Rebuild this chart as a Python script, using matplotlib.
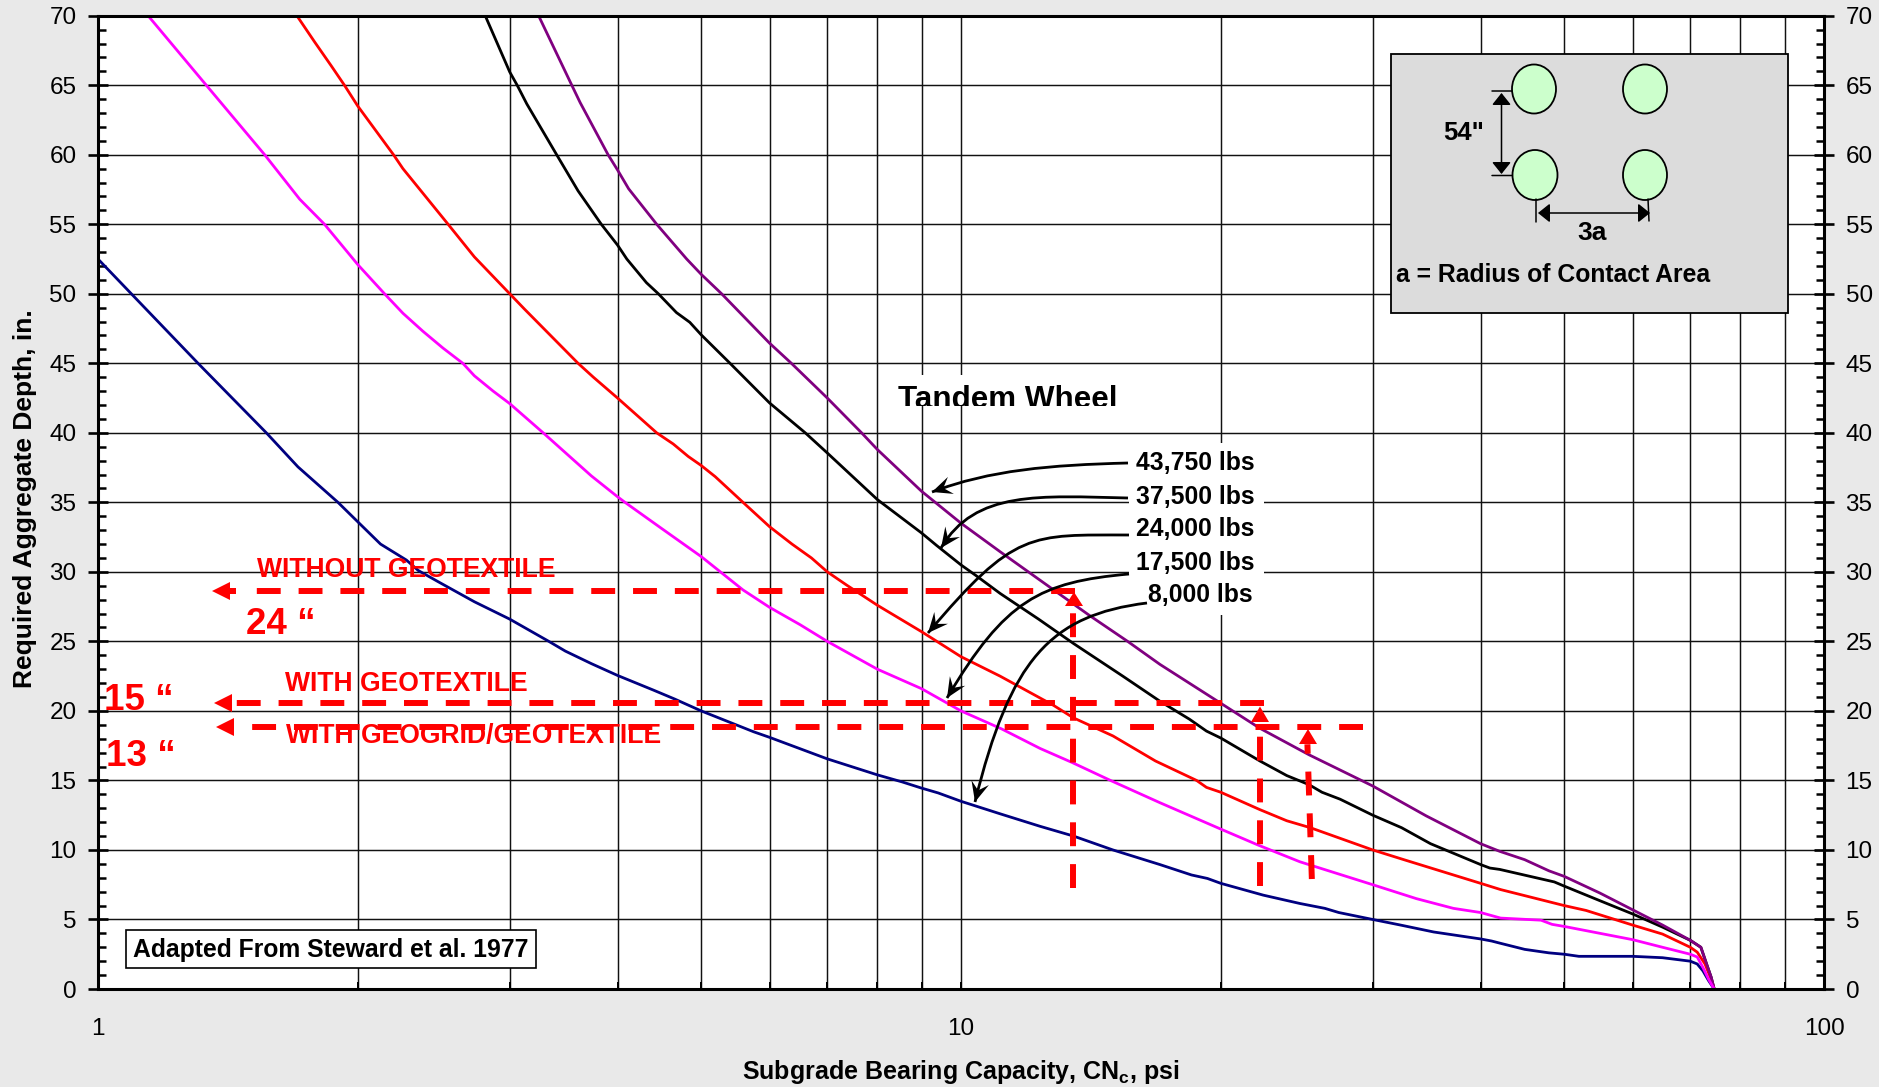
import math

import matplotlib
matplotlib.use("Agg")
import matplotlib.pyplot as plt
from matplotlib.patches import Ellipse, FancyArrowPatch, PathPatch, Polygon, Rectangle
from matplotlib.path import Path
from matplotlib.ticker import FixedFormatter, FixedLocator, MultipleLocator
from matplotlib.transforms import Affine2D

plt.rcParams["font.family"] = ["Liberation Sans", "DejaVu Sans"]
plt.rcParams["mathtext.fontset"] = "custom"
plt.rcParams["mathtext.rm"] = "Liberation Sans:bold"
plt.rcParams["mathtext.bf"] = "Liberation Sans:bold"

WIDTH, HEIGHT = 1879, 1087

x_8000 = [1, 1.093, 1.306, 1.567, 1.705, 1.897, 2, 2.125, 2.277, 2.35, 2.477, 2.73, 3, 3.33, 3.48, 3.73, 4, 4.4, 4.66, 5,
          5.75, 6, 7, 8, 8.54, 9, 9.41, 10, 11.1, 12.35, 13.5, 15, 17, 18.5, 19.3, 20, 22.4, 24.7, 26.4, 27.4,
          30, 32.3, 35.3, 40, 41.2, 42.1, 45, 48, 50, 52, 60, 65, 70, 71.3, 72.4, 73.5, 74.6]
y_8000 = [52.5, 50, 45, 40, 37.55, 35, 33.6, 32, 30.85, 30.1, 29.3, 27.85, 26.6, 25, 24.3, 23.4, 22.55, 21.5, 20.85, 20,
          18.5, 18.1, 16.55, 15.4, 14.9, 14.45, 14.1, 13.5, 12.6, 11.7, 11, 10, 8.95, 8.2, 7.95, 7.6, 6.75, 6.15, 5.8, 5.5,
          5, 4.6, 4.1, 3.6, 3.45, 3.3, 2.85, 2.6, 2.5, 2.35, 2.35, 2.25, 2, 1.8, 1.3, 0.6, 0]

x_17500 = [1.143, 1.335, 1.56, 1.713, 1.83, 2, 2.148, 2.256, 2.38, 2.51, 2.647, 2.73, 2.87, 3, 3.28, 3.73, 4, 4.08, 4.48, 5,
           5.59, 6, 6.51, 7, 8, 9, 10, 11.15, 12.35, 13.44, 14.9, 17, 20, 22.1, 24.7, 30, 33.7, 37.2, 40, 42.2, 47, 48.4, 50,
           60, 65, 70, 71.3, 72.4, 73.5, 74.6]
y_17500 = [70, 65, 60, 56.8, 55, 52.1, 50, 48.6, 47.3, 46.1, 45, 44.1, 43, 42.1, 40, 36.9, 35.4, 35, 33.2, 31.1,
           28.7, 27.45, 26.2, 25, 23, 21.6, 20, 18.7, 17.3, 16.3, 15, 13.4, 11.5, 10.35, 9.15, 7.5, 6.5, 5.8, 5.5, 5.1, 4.95, 4.65, 4.5,
           3.55, 3, 2.5, 2.3, 1.55, 0.7, 0]

x_24000 = [1.7, 1.783, 1.863, 1.93, 2, 2.2, 2.256, 2.545, 2.73, 3, 3.12, 3.6, 3.75, 4, 4.44, 4.64, 4.83, 5, 5.19, 5.59, 6, 6.37, 6.71, 7, 7.37,
           8, 9, 10, 11.1, 12.8, 13.5, 15, 16.8, 18.75, 19.25, 20, 22.2, 23.85, 25.4, 30, 32.6, 40, 42.2, 50, 53, 60, 65, 70, 71.3, 72.8, 74, 74.6]
y_24000 = [70, 68.1, 66.4, 65, 63.5, 60, 59, 55, 52.65, 50, 48.9, 45, 44, 42.5, 40, 39.2, 38.3, 37.65, 36.85, 35, 33.25, 32, 31, 30, 29.05,
           27.6, 25.7, 23.9, 22.5, 20.4, 19.5, 18.2, 16.4, 15, 14.5, 14.15, 12.9, 12.1, 11.6, 10, 9.3, 7.6, 7.15, 6, 5.65, 4.6, 3.95, 3, 2.65, 1.8, 0.7, 0]

x_37500 = [2.81, 3, 3.06, 3.14, 3.4, 3.6, 3.83, 4, 4.1, 4.32, 4.46, 4.68, 4.85, 5, 5.4, 6, 6.6, 7, 8, 9, 9.37, 10, 10.4, 11.1, 12.3, 13.5, 15.4, 17,
           18.4, 19.25, 20, 22.2, 23.85, 25.3, 26.2, 27.5, 30, 32.4, 35, 40, 41, 42.1, 48.7, 50, 55, 60, 65, 70, 72, 73.1, 74, 74.6]
y_37500 = [70, 65.95, 65, 63.65, 60, 57.4, 55, 53.5, 52.5, 50.8, 50, 48.65, 47.95, 47.05, 45, 42.15, 40, 38.55, 35.2, 32.8, 31.9, 30.5, 29.75, 28.45, 26.6, 24.85, 22.5, 20.7,
           19.4, 18.55, 18.05, 16.4, 15.35, 14.7, 14.15, 13.65, 12.5, 11.6, 10.45, 8.95, 8.7, 8.6, 7.7, 7.4, 6.35, 5.4, 4.45, 3.5, 3, 1.8, 0.85, 0]

x_43750 = [3.24, 3.54, 3.62, 3.9, 4, 4.12, 4.44, 4.81, 5, 5.28, 6, 6.36, 7, 7.67, 8, 9, 10, 11.1, 14.1, 15.6, 17, 20, 22.2, 25.3, 30, 34.6,
           40, 42.1, 45, 48, 50, 55, 60, 65, 70, 72, 73.1, 74, 74.6]
y_43750 = [70, 65, 63.75, 60, 58.9, 57.55, 55, 52.5, 51.4, 50, 46.45, 45, 42.5, 40, 38.8, 35.8, 33.5, 31.45, 26.85, 25, 23.35, 20.55, 18.75, 16.85, 14.6, 12.45,
           10.45, 9.9, 9.3, 8.5, 8.1, 6.9, 5.7, 4.6, 3.5, 3, 1.8, 0.85, 0]

series = [
    (x_8000, y_8000, "#000080"),
    (x_37500, y_37500, "black"),
    (x_24000, y_24000, "#ff0000"),
    (x_43750, y_43750, "#800080"),
    (x_17500, y_17500, "#ff00ff"),
]

load_labels = ["43,750 lbs", "37,500 lbs", "24,000 lbs", "17,500 lbs", "8,000 lbs"]

# guide lines: (right x, left x, depth) and (top x, bottom x, bottom depth, top depth)
guide_h = [(13.56, 1.512, 28.65), (22.45, 1.434, 20.6), (29.2, 1.492, 18.87)]
guide_v = [(13.5, 13.5, 7.29, 27.1), (22.2, 22.2, 7.43, 18.4), (25.2, 25.5, 7.91, 17.6)]

fig = plt.figure(figsize=(WIDTH / 100, HEIGHT / 100), dpi=100, facecolor="#e9e9e9")
ax = fig.add_axes([98 / WIDTH, 1 - 989 / HEIGHT, 1726 / WIDTH, 973.3 / HEIGHT])
# annotation pieces are placed in image pixels
px = Affine2D().scale(1, -1).translate(0, HEIGHT)


def bezier(pts, t):
    (a, b, c, d) = pts
    u = 1 - t
    return (u**3 * a[0] + 3 * u * u * t * b[0] + 3 * u * t * t * c[0] + t**3 * d[0],
            u**3 * a[1] + 3 * u * u * t * b[1] + 3 * u * t * t * c[1] + t**3 * d[1])


def stealth_head(pts, length=20, half=9, notch=12):
    tip = pts[-1]
    back = bezier(pts, 0.9)
    dx, dy = tip[0] - back[0], tip[1] - back[1]
    norm = math.hypot(dx, dy)
    dx, dy = dx / norm, dy / norm
    return [tip,
            (tip[0] - dx * length - dy * half, tip[1] - dy * length + dx * half),
            (tip[0] - dx * notch, tip[1] - dy * notch),
            (tip[0] - dx * length + dy * half, tip[1] - dy * length - dx * half)]


ax.set_xscale("log")
ax.set_xlim(1, 100)
ax.set_ylim(0, 70)

ax.set_axisbelow(True)
ax.xaxis.set_major_locator(FixedLocator([1, 10, 100]))
ax.xaxis.set_major_formatter(FixedFormatter(["1", "10", "100"]))
ax.xaxis.set_minor_locator(FixedLocator([a * b for b in (1, 10) for a in range(2, 10)]))
ax.xaxis.set_minor_formatter(FixedFormatter([]))
ax.yaxis.set_major_locator(MultipleLocator(5))
ax.yaxis.set_minor_locator(MultipleLocator(1))
ax.grid(axis="x", which="both", color="#111111", lw=1.05)
ax.grid(axis="y", which="major", color="#111111", lw=1.05)
ax.tick_params(axis="x", which="both", direction="in", length=5, width=1.4, labelsize=17.5, pad=21)
ax.tick_params(axis="y", which="major", direction="inout", length=15, width=1.9, labelsize=17.5,
               pad=8, right=True, labelright=True)
ax.tick_params(axis="y", which="minor", direction="in", length=6, width=1.8, right=True)
for spine in ax.spines.values():
    spine.set_linewidth(2.2)

fig.text(961 / WIDTH, 1 - 1072 / HEIGHT, r"Subgrade Bearing Capacity, CN$_{\mathbf{c}}$, psi",
         fontsize=18, fontweight="bold", ha="center", va="center")
fig.text(25 / WIDTH, 1 - 499 / HEIGHT, "Required Aggregate Depth, in.", fontsize=19,
         fontweight="bold", rotation=90, ha="center", va="center")

for xs, ys, color in series:
    ax.plot(xs, ys, color=color, lw=2.0, zorder=2.5)

# inset sketch
ax.add_patch(Rectangle((1390.5, 53.5), 397, 259, transform=px, fc="#dcdcdc", ec="black", lw=1.3, zorder=3))
for cx, cy, w, h in [(1534, 89, 44, 49), (1645, 89, 44, 49), (1535, 175, 45, 50), (1645, 175, 44, 50)]:
    ax.add_patch(Ellipse((cx, cy), w, h, transform=px, fc="#ccffcc", ec="black", lw=1.3, zorder=3.1))
for a, b in [((1492, 91), (1512, 91)), ((1492, 175.5), (1512, 175.5)), ((1536, 199), (1536, 222)), ((1648, 199), (1649, 221))]:
    ax.add_patch(FancyArrowPatch(a, b, transform=px, arrowstyle="-", color="black", lw=1.1, shrinkA=0, shrinkB=0, zorder=3.1))
for a, b in [((1501.5, 93), (1501.5, 174)), ((1538, 213), (1650, 213))]:
    ax.add_patch(FancyArrowPatch(a, b, transform=px, arrowstyle="<|-|>,head_length=0.4,head_width=0.32", mutation_scale=18,
                                 color="black", lw=1.1, shrinkA=0, shrinkB=0, zorder=3.2))
ax.text(1464, 133, '54"', transform=px, fontsize=18.5, fontweight="bold", ha="center", va="center", zorder=3.3)
ax.text(1592, 233, "3a", transform=px, fontsize=19, fontweight="bold", ha="center", va="center", zorder=3.3)
ax.text(1396.5, 275, "a = Radius of Contact Area", transform=px, fontsize=17.8, fontweight="bold", ha="left", va="center", zorder=3.3)

# cut-off title and the white label panel
title_box = Rectangle((890, 375), 240, 31, transform=px, fc="white", ec="none", zorder=3)
ax.add_patch(title_box)
title = ax.text(898, 408.5, "Tandem Wheel", transform=px, fontsize=22.6, fontweight="bold", ha="left", va="baseline",
                zorder=3.3, clip_on=True)
title.set_clip_path(title_box)
ax.add_patch(Rectangle((1129, 443), 135, 172, transform=px, fc="white", ec="none", zorder=3))
for label, left, cy in zip(load_labels, [1136, 1136, 1136, 1136, 1148], [463.5, 496.5, 529.5, 562.5, 594.5]):
    ax.text(left, cy, label, transform=px, fontsize=17.8, fontweight="bold", ha="left", va="center", zorder=3.3)

# curved leaders
leaders = [
    [(1128, 463), (1050, 465), (990, 470), (932, 492)],
    [(1128, 498), (1040, 496), (975, 490), (941, 548)],
    [(1129, 535), (1030, 535), (1015, 530), (928, 633)],
    [(1129, 574), (1040, 582), (1005, 600), (947, 698)],
    [(1147, 603), (1050, 615), (1010, 660), (975, 802)],
]
for verts in leaders:
    path = Path(verts, [Path.MOVETO, Path.CURVE4, Path.CURVE4, Path.CURVE4])
    ax.add_patch(PathPatch(path, transform=px, fc="none", ec="black", lw=2.0, zorder=5))
    ax.add_patch(Polygon(stealth_head(verts), transform=px, fc="black", ec="none", zorder=5))

# red guides
for right, left, depth in guide_h:
    ax.plot([right, left], [depth, depth], color="red", lw=4.3, dashes=(4, 3), dash_capstyle="butt", zorder=4)
for top_x, bottom_x, bottom, top in guide_v:
    ax.plot([bottom_x, top_x], [bottom, top], color="red", lw=4.3, dashes=(4, 3), dash_capstyle="butt", zorder=4)
for tip, y, stem in zip([212, 214, 216], [591, 703, 727], [6, 0, 0]):
    ax.add_patch(Polygon([(tip, y), (tip + 18, y - 9), (tip + 18, y - 3), (tip + 18 + stem, y - 3),
                          (tip + 18 + stem, y + 3), (tip + 18, y + 3), (tip + 18, y + 9)],
                         transform=px, fc="red", ec="none", zorder=4.1))
for x, tip, base in zip([1074, 1260, 1308], [592, 706.5, 729], [606, 722, 744]):
    ax.add_patch(Polygon([(x, tip), (x - 9, base), (x + 9, base)], transform=px, fc="red", ec="none", zorder=4.1))

for text, left, cy in [("WITHOUT GEOTEXTILE", 257, 570), ("WITH GEOTEXTILE", 285, 684), ("WITH GEOGRID/GEOTEXTILE", 285.5, 736.5)]:
    ax.text(left, cy, text, transform=px, color="red", fontsize=19.1, fontweight="bold", ha="left", va="center", zorder=6)
for text, left, cy in [("24 \u201c", 245.5, 624), ("15 \u201c", 103.5, 700), ("13 \u201c", 106, 756)]:
    ax.text(left, cy, text, transform=px, color="red", fontsize=26.5, fontweight="bold", ha="left", va="center", zorder=6)

ax.text(133, 950.5, "Adapted From Steward et al. 1977", transform=px, fontsize=17.8, fontweight="bold", ha="left", va="center", zorder=6)
ax.add_patch(Rectangle((126, 930), 410, 38, transform=px, fc="white", ec="black", lw=1.2, zorder=5.5))

ax.set_xlim(1, 100)
ax.set_ylim(0, 70)
fig.savefig("out.png", dpi=100, facecolor=fig.get_facecolor())
